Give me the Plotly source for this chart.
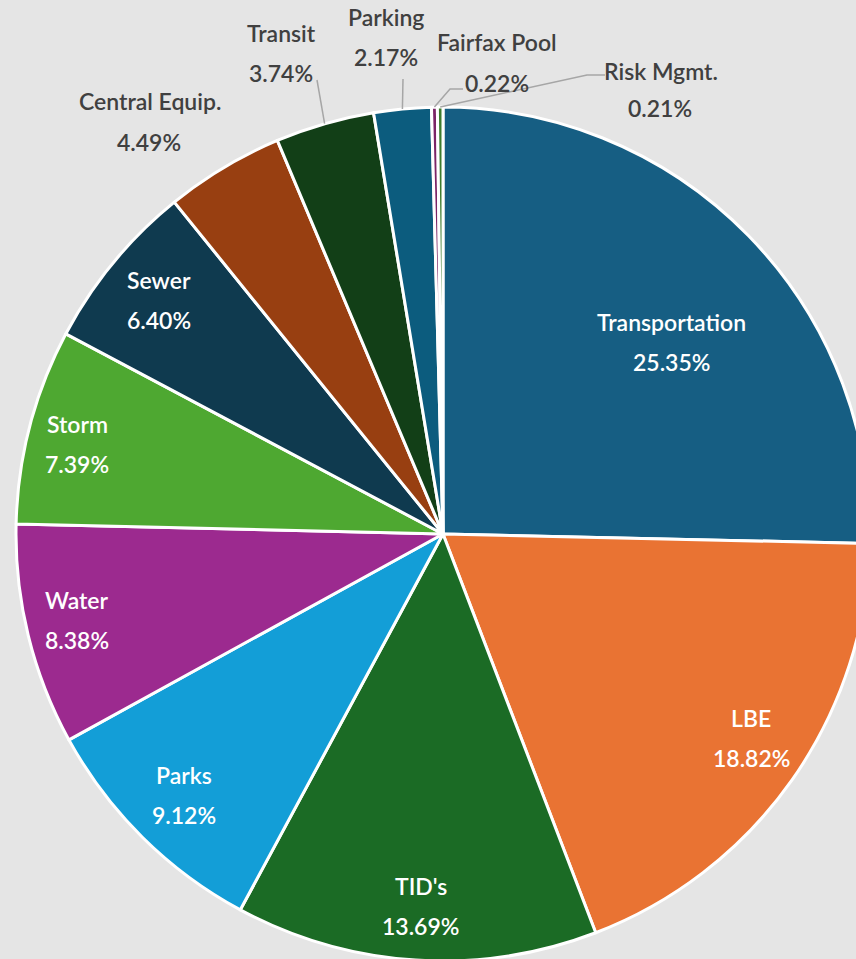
import math
import plotly.graph_objects as go

# ---------------- data ----------------
categories = ["Transportation", "LBE", "TID's", "Parks", "Water", "Storm", "Sewer",
              "Central Equip.", "Transit", "Parking", "Fairfax Pool", "Risk Mgmt."]
values = [25.35, 18.82, 13.69, 9.12, 8.38, 7.39, 6.40, 4.49, 3.74, 2.17, 0.22, 0.21]
value_labels = [f"{v:.2f}%" for v in values]

# ---------------- style ----------------
colors = ["#165E83", "#E97333", "#1B6B25", "#139ED7", "#9C2A8F", "#4EA831", "#0F3A4F",
          "#983F11", "#123F17", "#0C5C7E", "#7B2466", "#3E7C2C"]
BG = "#E5E5E5"
FONT = "Lato"
FS = 23
OUT_COLOR = "#404040"
LINE_COLOR = "#A6A6A6"

# geometry (pixels) - pie is larger than the visible window, as in the reference
W, H = 890, 985
CX, CY, R = 443, 534, 427
SIDE = 2 * R
ML, MT = CX - R, CY - R
MR, MB = W - ML - SIDE, H - MT - SIDE


def to_paper(px, py):
    return (px - ML) / SIDE, 1 - (py - MT) / SIDE


total = sum(values)
mids = []
acc = 0.0
for v in values:
    mids.append((acc + v / 2) / total * 360.0)
    acc += v


def polar_px(angle_deg, frac):
    a = math.radians(angle_deg)
    return CX + frac * R * math.sin(a), CY - frac * R * math.cos(a)


fig = go.Figure(go.Pie(
    labels=categories, values=values, sort=False, direction="clockwise", rotation=0,
    marker=dict(colors=colors, line=dict(color="white", width=3)),
    textinfo="none", showlegend=False, hoverinfo="label+percent",
    domain=dict(x=[0, 1], y=[0, 1]),
))

annotations = []
shapes = []
GAP = 20  # half distance between the two text lines

# inside labels: (radius fraction, angle tweak in degrees)
inside = {"Transportation": (0.70, 4.3), "LBE": (0.865, -1.7), "TID's": (0.873, -0.3),
          "Parks": (0.862, 0.0), "Water": (0.88, 0.5), "Storm": (0.882, -0.9),
          "Sewer": (0.862, 0.0)}
for i, name in enumerate(categories):
    if name in inside:
        f, d = inside[name]
        px, py = polar_px(mids[i] + d, f)
        for txt, yy in ((name, py - GAP), (value_labels[i], py + GAP)):
            x, y = to_paper(px, yy)
            annotations.append(dict(x=x, y=y, xref="paper", yref="paper", text=txt,
                                    showarrow=False, xanchor="center", yanchor="middle",
                                    font=dict(family=FONT, size=FS, color="white", weight=600)))

# outside labels: label centre positions (px) for name and value lines
outside = {"Central Equip.": ((150, 101), (149, 142)),
           "Transit": ((281, 33), (281, 73)),
           "Parking": ((386, 17), (386, 57)),
           "Fairfax Pool": ((497, 42), (497, 83)),
           "Risk Mgmt.": ((661, 71), (660, 108))}
for i, name in enumerate(categories):
    if name in outside:
        (nx, ny), (vx, vy) = outside[name]
        for txt, (px, py) in ((name, (nx, ny)), (value_labels[i], (vx, vy))):
            x, y = to_paper(px, py)
            annotations.append(dict(x=x, y=y, xref="paper", yref="paper", text=txt,
                                    showarrow=False, xanchor="center", yanchor="middle",
                                    font=dict(family=FONT, size=FS, color=OUT_COLOR, weight=600)))

# leader lines: label-side points (px), ending on the slice edge at its mid angle
leaders = {"Transit": [(317, 80)],
           "Parking": [(403, 79)],
           "Fairfax Pool": [(463, 89), (450, 89)],
           "Risk Mgmt.": [(605, 75), (587, 75)]}
for i, name in enumerate(categories):
    if name in leaders:
        pts = [to_paper(*p) for p in leaders[name]]
        ex, ey = polar_px(mids[i], 1.0)
        pts.append(to_paper(ex, ey))
        path = "M " + " L ".join(f"{x:.5f},{y:.5f}" for x, y in pts)
        shapes.append(dict(type="path", path=path, xref="paper", yref="paper",
                           line=dict(color=LINE_COLOR, width=1.5), layer="above"))

fig.update_layout(
    width=W, height=H, autosize=False,
    margin=dict(l=ML, r=MR, t=MT, b=MB, pad=0),
    paper_bgcolor=BG, plot_bgcolor=BG,
    annotations=annotations, shapes=shapes,
    font=dict(family=FONT),
)

fig.write_html("out.html", config={"displayModeBar": False},
               post_script="document.body.style.margin='0';document.body.style.overflow='hidden';")
